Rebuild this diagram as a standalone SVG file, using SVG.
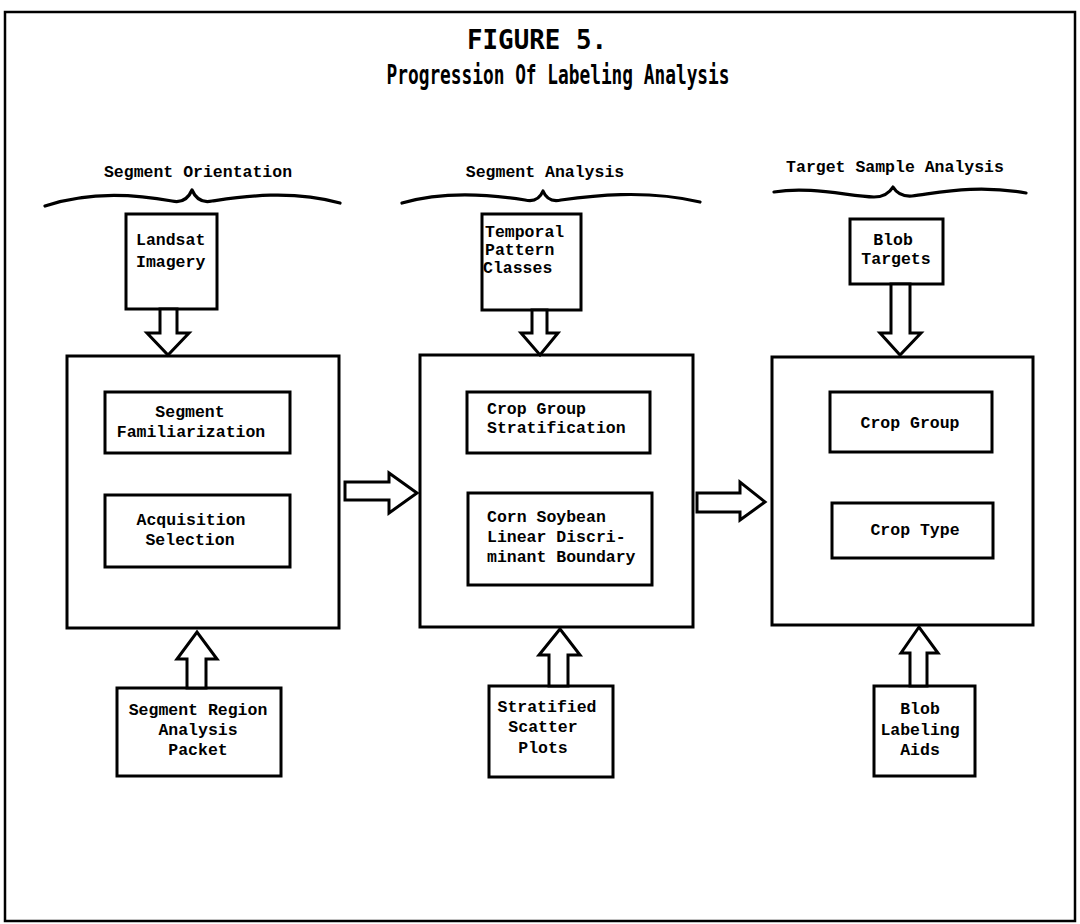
<svg xmlns="http://www.w3.org/2000/svg" width="1080" height="924" viewBox="0 0 1080 924">
  <style>
    .frame { fill: none; stroke: #000; stroke-width: 2.5; }
    .box { fill: #fff; stroke: #000; stroke-width: 3; }
    .arrow { fill: #fff; stroke: #000; stroke-width: 3; stroke-linejoin: miter; }
    .brace { fill: none; stroke: #000; stroke-width: 3.2; stroke-linecap: round; stroke-linejoin: round; }
    .lbl { font-family: "Liberation Mono", "DejaVu Sans Mono", monospace; font-weight: bold; font-size: 16.5px; fill: #000; }
    .mid { text-anchor: middle; }
    .title { font-family: "DejaVu Sans Mono", "Liberation Mono", monospace; font-weight: bold; font-size: 26px; fill: #000; text-anchor: middle; }
  </style>

  <rect width="1080" height="924" fill="#fff"/>
  <rect class="frame" x="5" y="12" width="1070" height="909"/>

  <!-- title -->
  <g id="title">
    <text class="title" x="537" y="49" textLength="140" lengthAdjust="spacingAndGlyphs">FIGURE 5.</text>
    <text class="title" x="558" y="84" textLength="343" lengthAdjust="spacingAndGlyphs">Progression Of Labeling Analysis</text>
  </g>

  <!-- phase headers with braces -->
  <g id="phase-orientation">
    <text class="lbl mid" x="198" y="177">Segment Orientation</text>
    <path class="brace" d="M45,206 C95,189 145,196 172,201 Q186,204 192,190 Q198,204 212,201 C240,197 290,189 340,203"/>
  </g>
  <g id="phase-analysis">
    <text class="lbl mid" x="545" y="177">Segment Analysis</text>
    <path class="brace" d="M402,203 C450,189 500,196 525,200 Q538,203 543,191 Q548,203 561,200 C590,196 645,189 700,202"/>
  </g>
  <g id="phase-target">
    <text class="lbl mid" x="895" y="172">Target Sample Analysis</text>
    <path class="brace" d="M774,192 C810,186 848,196 874,197 Q887,197 893,187 Q899,197 912,196 C938,193 975,184 1026,193"/>
  </g>

  <!-- top inputs -->
  <g id="landsat-imagery">
    <rect class="box" x="126" y="214" width="91" height="95"/>
    <text class="lbl" x="136" y="245">Landsat</text>
    <text class="lbl" x="136" y="267">Imagery</text>
  </g>
  <g id="temporal-pattern-classes">
    <rect class="box" x="482" y="214" width="99" height="96"/>
    <text class="lbl" x="485" y="237">Temporal</text>
    <text class="lbl" x="485" y="255">Pattern</text>
    <text class="lbl" x="483" y="273">Classes</text>
  </g>
  <g id="blob-targets">
    <rect class="box" x="850" y="219" width="93" height="65"/>
    <text class="lbl mid" x="893" y="245">Blob</text>
    <text class="lbl mid" x="896" y="264">Targets</text>
  </g>

  <!-- main stage boxes -->
  <g id="stage-orientation">
    <rect class="box" x="67" y="356" width="272" height="272"/>
    <rect class="box" x="105" y="392" width="185" height="61"/>
    <text class="lbl mid" x="190" y="417">Segment</text>
    <text class="lbl mid" x="191" y="437">Familiarization</text>
    <rect class="box" x="105" y="495" width="185" height="72"/>
    <text class="lbl mid" x="191" y="525">Acquisition</text>
    <text class="lbl mid" x="190" y="545">Selection</text>
  </g>
  <g id="stage-analysis">
    <rect class="box" x="420" y="355" width="273" height="272"/>
    <rect class="box" x="467" y="392" width="183" height="61"/>
    <text class="lbl" x="487" y="414">Crop Group</text>
    <text class="lbl" x="487" y="433">Stratification</text>
    <rect class="box" x="468" y="493" width="184" height="92"/>
    <text class="lbl" x="487" y="522">Corn Soybean</text>
    <text class="lbl" x="487" y="542">Linear Discri-</text>
    <text class="lbl" x="487" y="562">minant Boundary</text>
  </g>
  <g id="stage-target">
    <rect class="box" x="772" y="357" width="261" height="268"/>
    <rect class="box" x="830" y="392" width="162" height="60"/>
    <text class="lbl mid" x="910" y="428">Crop Group</text>
    <rect class="box" x="832" y="503" width="161" height="55"/>
    <text class="lbl mid" x="915" y="535">Crop Type</text>
  </g>

  <!-- bottom aids -->
  <g id="segment-region-packet">
    <rect class="box" x="117" y="688" width="164" height="88"/>
    <text class="lbl mid" x="198" y="715">Segment Region</text>
    <text class="lbl mid" x="198" y="735">Analysis</text>
    <text class="lbl mid" x="198" y="755">Packet</text>
  </g>
  <g id="stratified-scatter-plots">
    <rect class="box" x="489" y="686" width="124" height="91"/>
    <text class="lbl mid" x="547" y="712">Stratified</text>
    <text class="lbl mid" x="543" y="732">Scatter</text>
    <text class="lbl mid" x="543" y="753">Plots</text>
  </g>
  <g id="blob-labeling-aids">
    <rect class="box" x="874" y="686" width="101" height="90"/>
    <text class="lbl mid" x="920" y="714">Blob</text>
    <text class="lbl mid" x="920" y="735">Labeling</text>
    <text class="lbl mid" x="920" y="755">Aids</text>
  </g>

  <!-- block-arrow connectors -->
  <g id="connectors">
    <polygon class="arrow" points="160,309 177,309 177,333 189,333 168,355 147,333 160,333"/>
    <polygon class="arrow" points="532,310 547,310 547,333 558,333 540,355 521,333 532,333"/>
    <polygon class="arrow" points="891,284 910,284 910,333 921,333 900,355 880,333 891,333"/>
    <polygon class="arrow" points="345,482 389,482 389,473 417,493 389,513 389,500 345,500"/>
    <polygon class="arrow" points="697,493 740,493 740,482 765,502 740,520 740,512 697,512"/>
    <polygon class="arrow" points="187,688 206,688 206,659 217,659 197,632 177,659 187,659"/>
    <polygon class="arrow" points="549,686 568,686 568,655 580,655 560,629 539,655 549,655"/>
    <polygon class="arrow" points="910,686 927,686 927,653 938,653 919,627 901,653 910,653"/>
  </g>
</svg>
